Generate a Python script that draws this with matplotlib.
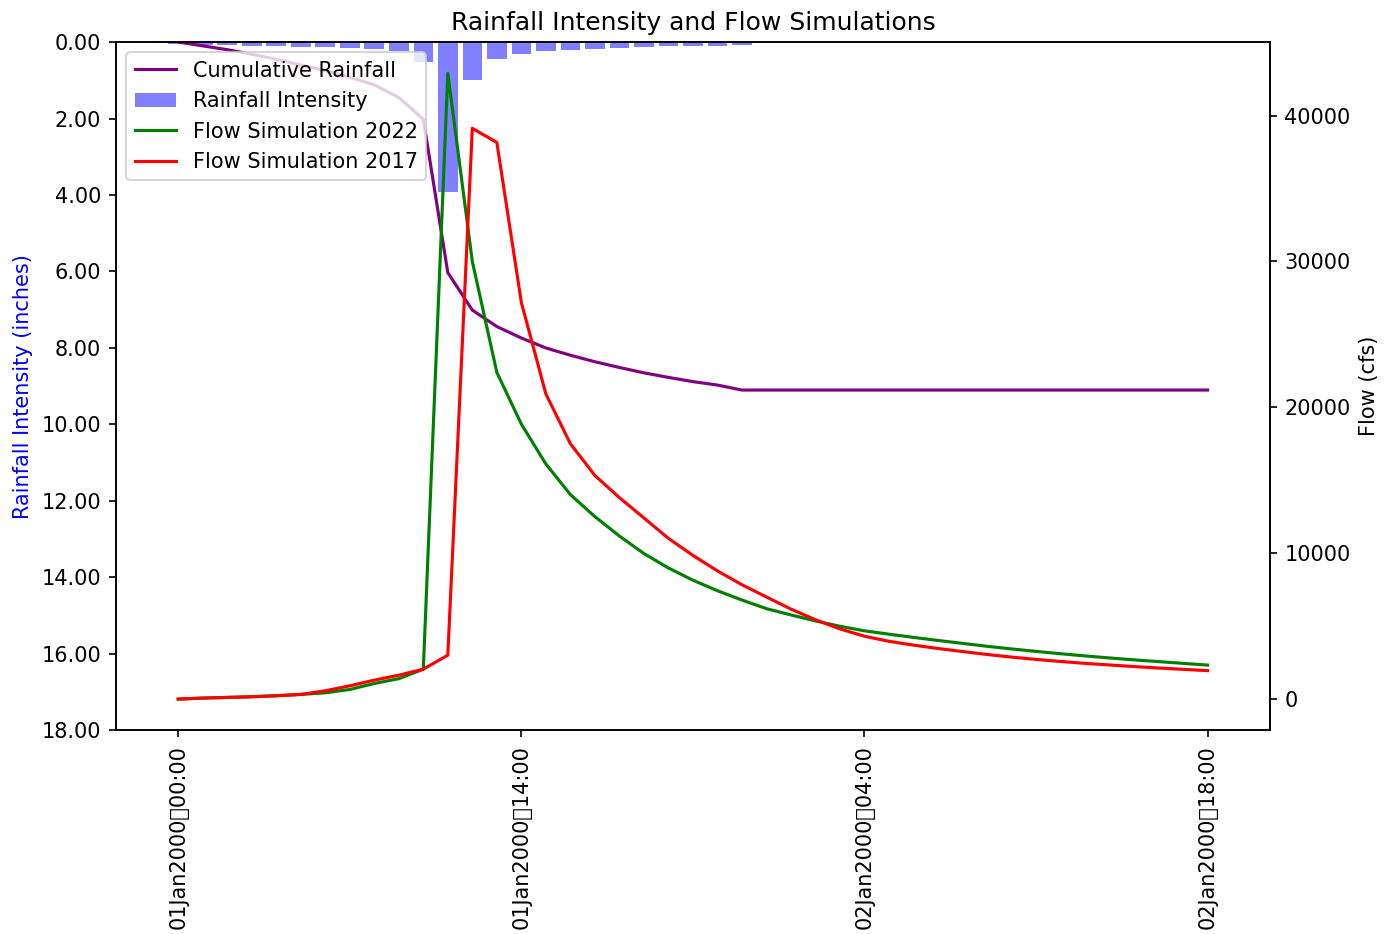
"""
Rainfall intensity vs. simulated flow (2017 / 2022 runs).
"""
import numpy as np
import pandas as pd
import matplotlib
matplotlib.use("Agg")
import matplotlib.pyplot as plt
from matplotlib.ticker import FormatStrFormatter

# hourly time steps, 01Jan2000 00:00 .. 02Jan2000 18:00
times = pd.date_range("2000-01-01 00:00", periods=43, freq="h")
time_labels = [t.strftime("%d%b%Y") + "\t" + t.strftime("%H:%M") for t in times]
tick_every = 14

# rainfall intensity per hour (inches)
rain_intensity = [0.05, 0.08, 0.09, 0.10, 0.11, 0.12, 0.13, 0.15, 0.18, 0.24,
                  0.51, 3.92, 1.00, 0.44, 0.31, 0.24, 0.20, 0.17, 0.15, 0.13,
                  0.11, 0.10, 0.10, 0.09] + [0.0] * 19

# cumulative rainfall (inches)
cum_rain = [0.0, 0.10, 0.20, 0.32, 0.45, 0.60, 0.75, 0.92, 1.12, 1.45,
            2.02, 6.03, 7.01, 7.44, 7.74, 8.00, 8.19, 8.36, 8.51, 8.65,
            8.77, 8.88, 8.97, 9.10] + [9.10] * 19

# simulated flow (cfs)
flow_2022 = [0, 70, 115, 160, 230, 320, 430, 660, 1070, 1400,
             2050, 42900, 30000, 22400, 18850, 16120, 14020, 12510, 11180, 9980,
             8990, 8150, 7430, 6790, 6200, 5770, 5360, 4990, 4680, 4450,
             4230, 4020, 3820, 3620, 3440, 3270, 3110, 2960, 2820, 2690,
             2570, 2450, 2330]
flow_2017 = [0, 70, 115, 160, 230, 320, 570, 910, 1300, 1640,
             2050, 3010, 39130, 38160, 27200, 20920, 17510, 15330, 13810, 12420,
             11020, 9850, 8790, 7840, 7000, 6170, 5440, 4810, 4310, 3960,
             3700, 3470, 3260, 3060, 2880, 2720, 2580, 2450, 2340, 2230,
             2130, 2040, 1950]

fig, ax1 = plt.subplots(figsize=(1397 / 150, 934 / 150), dpi=150)
fig.subplots_adjust(left=0.083, right=0.909, bottom=0.218, top=0.955)

bars = ax1.bar(time_labels, rain_intensity, color="blue", alpha=0.5, label="Rainfall Intensity")
cum_line, = ax1.plot(time_labels, cum_rain, color="purple", label="Cumulative Rainfall")
ax1.set_ylim(18, 0)
ax1.set_yticks(np.arange(0, 19, 2))
ax1.yaxis.set_major_formatter(FormatStrFormatter("%.2f"))
ax1.set_ylabel("Rainfall Intensity (inches)", color="blue")

ax2 = ax1.twinx()
l22, = ax2.plot(time_labels, flow_2022, color="green", label="Flow Simulation 2022")
l17, = ax2.plot(time_labels, flow_2017, color="red", label="Flow Simulation 2017")
ax2.set_ylabel("Flow (cfs)")

ax1.set_xticks(range(0, len(time_labels), tick_every))
ax1.set_xticklabels(time_labels[::tick_every], rotation=90)

ax2.legend([cum_line, bars, l22, l17],
           ["Cumulative Rainfall", "Rainfall Intensity", "Flow Simulation 2022", "Flow Simulation 2017"],
           loc="upper left")
plt.title("Rainfall Intensity and Flow Simulations")
plt.savefig("out.png")
plt.close()
